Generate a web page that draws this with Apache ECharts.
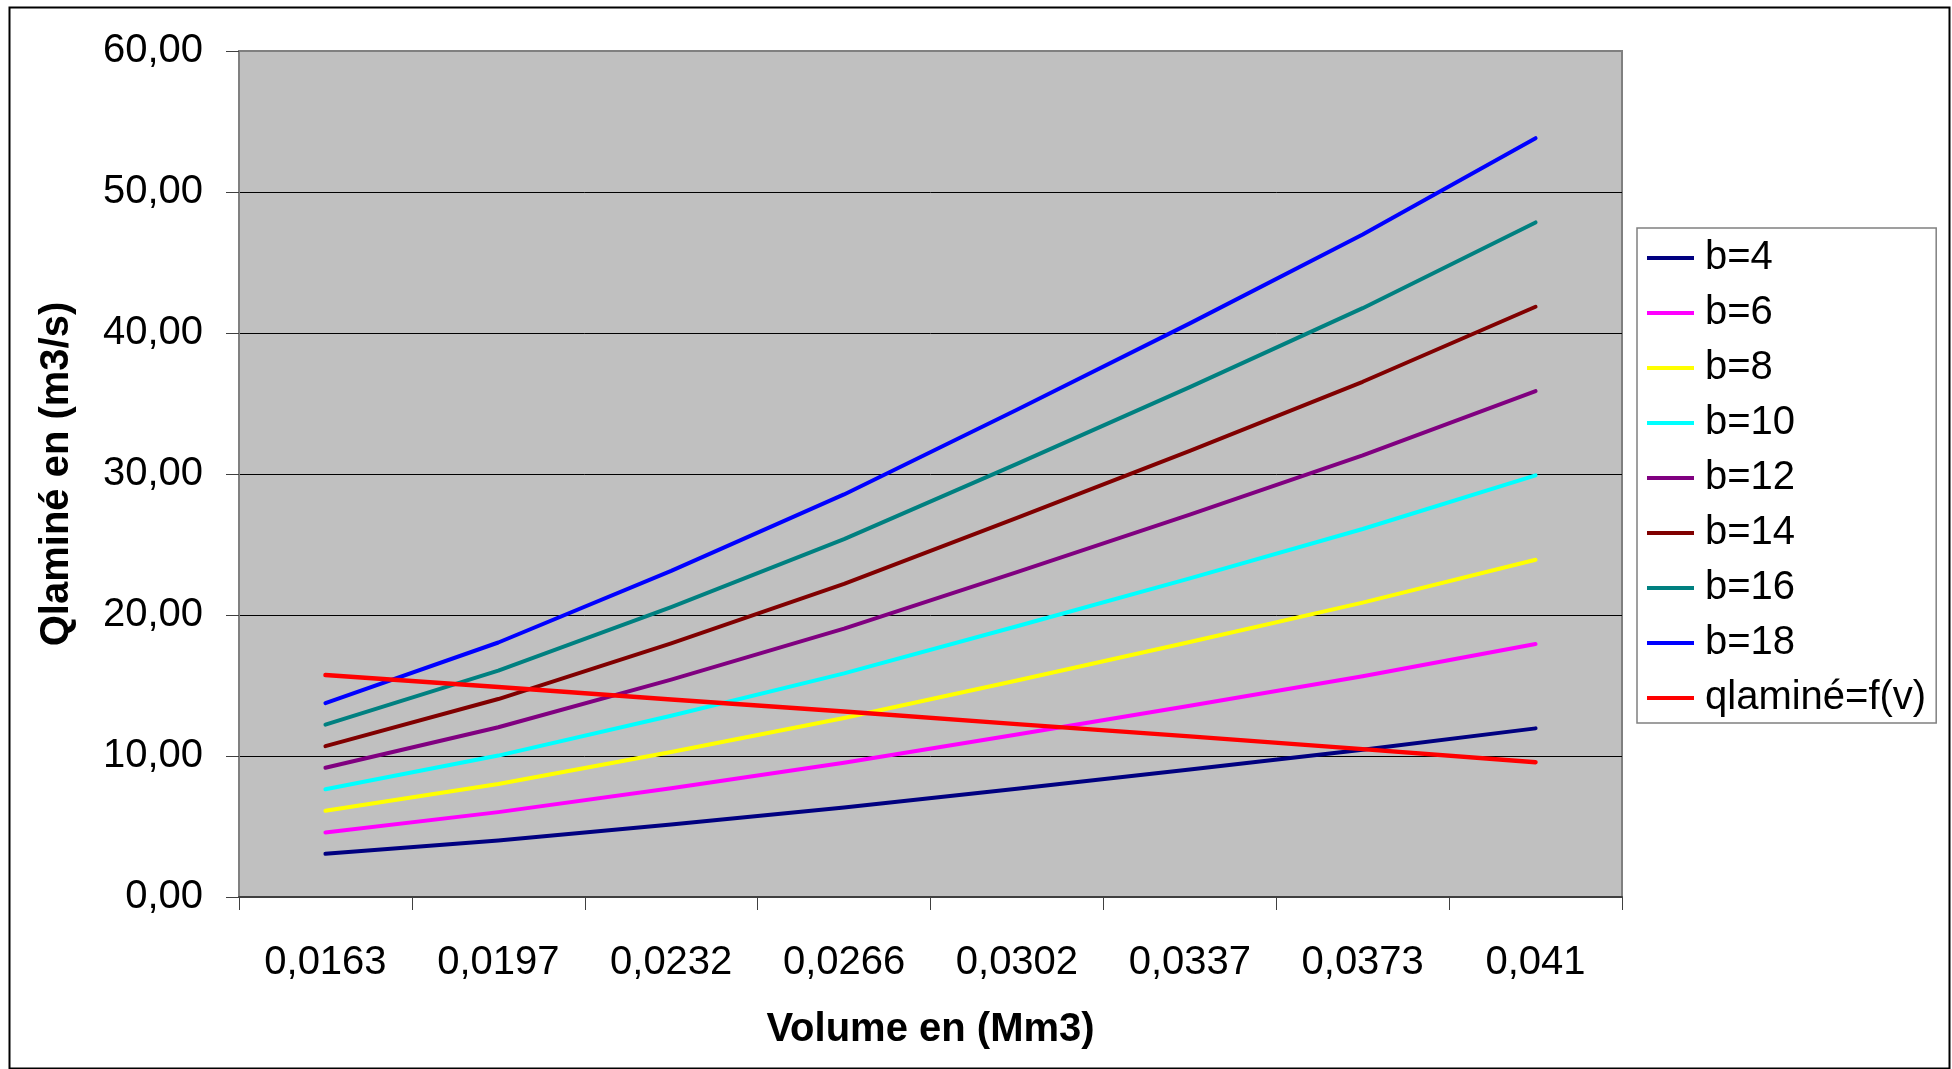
<!DOCTYPE html>
<html>
<head>
<meta charset="utf-8">
<title>Qlaminé en fonction du volume</title>
<script src="https://cdn.jsdelivr.net/npm/echarts@6/dist/echarts.min.js"></script>
<style>
  html, body { margin: 0; padding: 0; background: #ffffff; }
  #chart { width: 1952px; height: 1069px; }
</style>
</head>
<body>
<div id="chart"></div>
<script>
// Volume values (Mm3) along the horizontal axis
const categories = ['0,0163', '0,0197', '0,0232', '0,0266', '0,0302', '0,0337', '0,0373', '0,041'];

// Laminated discharge Q (m3/s) for each spillway width b
const b4  = [3.06, 4.01, 5.14, 6.34, 7.68, 9.04, 10.44, 11.96];
const b6  = [4.58, 6.02, 7.71, 9.52, 11.52, 13.56, 15.66, 17.94];
const b8  = [6.11, 8.02, 10.28, 12.69, 15.36, 18.08, 20.88, 23.92];
const b10 = [7.64, 10.03, 12.85, 15.86, 19.20, 22.60, 26.10, 29.90];
const b12 = [9.17, 12.04, 15.42, 19.03, 23.04, 27.12, 31.32, 35.88];
const b14 = [10.70, 14.04, 17.99, 22.20, 26.88, 31.64, 36.54, 41.86];
const b16 = [12.22, 16.05, 20.56, 25.38, 30.72, 36.16, 41.76, 47.84];
const b18 = [13.75, 18.05, 23.13, 28.55, 34.56, 40.68, 46.98, 53.82];
const qlamine = [15.74, 14.89, 14.01, 13.16, 12.26, 11.39, 10.49, 9.56];

// Vertical axis tick labels (French decimal comma)
const yTickLabels = ['0,00', '10,00', '20,00', '30,00', '40,00', '50,00', '60,00'];

const seriesNames  = ['b=4', 'b=6', 'b=8', 'b=10', 'b=12', 'b=14', 'b=16', 'b=18', 'qlaminé=f(v)'];
const seriesData   = [b4, b6, b8, b10, b12, b14, b16, b18, qlamine];
const seriesColors = ['#000080', '#FF00FF', '#FFFF00', '#00FFFF', '#800080', '#800000', '#008080', '#0000FF', '#FF0000'];

const FONT = '"Liberation Sans", Arial, Helvetica, sans-serif';

const chart = echarts.init(document.getElementById('chart'), null, { renderer: 'canvas' });

chart.setOption({
  animation: false,
  backgroundColor: '#ffffff',
  textStyle: { fontFamily: FONT },
  grid: {
    left: 239, top: 51, right: 330, bottom: 172,
    show: true,
    backgroundColor: '#C0C0C0',
    borderColor: '#808080',
    borderWidth: 2
  },
  legend: {
    orient: 'vertical',
    left: 1637,
    top: 228,
    padding: [10, 10, 5, 10],
    itemGap: 15,
    itemWidth: 47,
    itemHeight: 4,
    icon: 'rect',
    backgroundColor: '#ffffff',
    borderColor: '#808080',
    borderWidth: 1.5,
    borderRadius: 0,
    data: seriesNames,
    textStyle: {
      fontFamily: FONT,
      fontSize: 40,
      lineHeight: 40,
      color: '#000000',
      padding: [0, 0, 0, 6]
    }
  },
  xAxis: {
    type: 'category',
    data: categories,
    boundaryGap: true,
    name: 'Volume en (Mm3)',
    nameLocation: 'middle',
    nameGap: 113,
    nameTextStyle: { fontFamily: FONT, fontSize: 40, fontWeight: 'bold', color: '#000000' },
    axisLine: { show: true, lineStyle: { color: '#404040', width: 2 } },
    axisTick: { show: true, interval: 0, length: 13, lineStyle: { color: '#404040', width: 1 } },
    axisLabel: { interval: 0, fontFamily: FONT, fontSize: 40, color: '#000000', margin: 46 },
    splitLine: { show: false }
  },
  yAxis: {
    type: 'value',
    min: 0,
    max: 60,
    interval: 10,
    name: 'Qlaminé en (m3/s)',
    nameLocation: 'middle',
    nameRotate: 90,
    nameGap: 162,
    nameTextStyle: { fontFamily: FONT, fontSize: 40, fontWeight: 'bold', color: '#000000' },
    axisLine: { show: true, lineStyle: { color: '#808080', width: 2 } },
    axisTick: { show: true, length: 13, lineStyle: { color: '#404040', width: 1 } },
    axisLabel: {
      fontFamily: FONT, fontSize: 40, color: '#000000', margin: 36,
      formatter: function (v) { return yTickLabels[Math.round(v / 10)]; }
    },
    splitLine: { show: true, showMinLine: false, showMaxLine: false, lineStyle: { color: '#000000', width: 1 } }
  },
  series: seriesNames.map(function (name, i) {
    return {
      name: name,
      type: 'line',
      data: seriesData[i],
      symbol: 'none',
      smooth: false,
      color: seriesColors[i],
      lineStyle: { color: seriesColors[i], width: i === 8 ? 4.4 : 4, cap: 'round', join: 'round' },
      z: 2 + i
    };
  }),
  graphic: [{
    type: 'rect',
    left: 7, top: 5,
    shape: { width: 1940, height: 1061 },
    style: { fill: 'none', stroke: '#000000', lineWidth: 2 },
    silent: true,
    z: 100
  }]
});
</script>
</body>
</html>
